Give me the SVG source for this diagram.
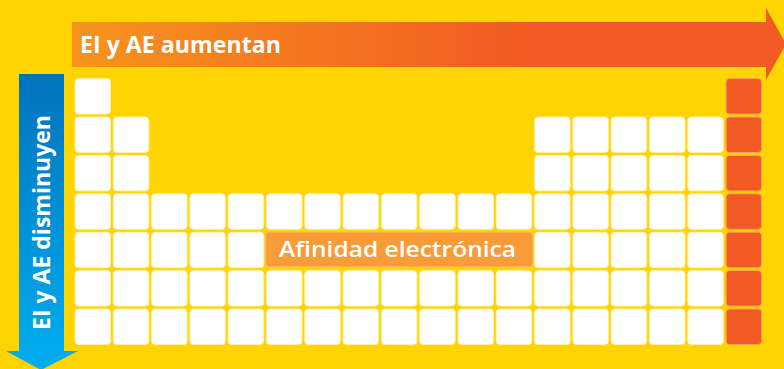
<svg xmlns="http://www.w3.org/2000/svg" xmlns:xlink="http://www.w3.org/1999/xlink" width="784" height="369" viewBox="0 0 784 369">
<defs>
<linearGradient id="gh" gradientUnits="userSpaceOnUse" x1="72" y1="0" x2="530" y2="0">
<stop offset="0" stop-color="#F7941D"/>
<stop offset="1" stop-color="#F15A22"/>
</linearGradient>
<linearGradient id="gv" gradientUnits="userSpaceOnUse" x1="0" y1="74" x2="0" y2="369">
<stop offset="0" stop-color="#0072BC"/>
<stop offset="1" stop-color="#00AEEF"/>
</linearGradient>
<rect id="c" width="35.5" height="35.5" rx="3.5"/>
</defs>
<style>
.w{fill:#FFFFFF;stroke:#FFF1A8;stroke-width:1}
.o{fill:#F15A22;stroke:#F8A05A;stroke-width:1}
.t{font-family:"Open Sans","Noto Sans","DejaVu Sans",sans-serif;fill:#FFFFFF}
</style>
<rect width="784" height="369" fill="#FFD400"/>
<g id="arrows">
<polygon id="arrow-h" points="72,22 766,22 766,8 786,44 766,80 766,67 72,67" fill="url(#gh)"/>
<polygon id="arrow-v" points="19,74 64,74 64,351 78,351 41,370 6,351 19,351" fill="url(#gv)"/>
</g>
<text class="t" x="80" y="53" font-size="23.5" font-weight="700" textLength="201" lengthAdjust="spacingAndGlyphs">EI y AE aumentan</text>
<text class="t" transform="translate(50,330) rotate(-90)" font-size="23.5" font-weight="700" textLength="215" lengthAdjust="spacingAndGlyphs">EI y AE disminuyen</text>
<g id="table">
<g id="row1"><use href="#c" class="w" x="75" y="78.6"/></g>
<g id="row2">
<use href="#c" class="w" x="75" y="117"/><use href="#c" class="w" x="113.3" y="117"/>
<use href="#c" class="w" x="534.6" y="117"/><use href="#c" class="w" x="572.9" y="117"/><use href="#c" class="w" x="611.2" y="117"/><use href="#c" class="w" x="649.5" y="117"/><use href="#c" class="w" x="687.8" y="117"/>
</g>
<g id="row3">
<use href="#c" class="w" x="75" y="155.4"/><use href="#c" class="w" x="113.3" y="155.4"/>
<use href="#c" class="w" x="534.6" y="155.4"/><use href="#c" class="w" x="572.9" y="155.4"/><use href="#c" class="w" x="611.2" y="155.4"/><use href="#c" class="w" x="649.5" y="155.4"/><use href="#c" class="w" x="687.8" y="155.4"/>
</g>
<g id="row4">
<use href="#c" class="w" x="75" y="193.8"/><use href="#c" class="w" x="113.3" y="193.8"/><use href="#c" class="w" x="151.6" y="193.8"/><use href="#c" class="w" x="189.9" y="193.8"/><use href="#c" class="w" x="228.2" y="193.8"/><use href="#c" class="w" x="266.5" y="193.8"/><use href="#c" class="w" x="304.8" y="193.8"/><use href="#c" class="w" x="343.1" y="193.8"/><use href="#c" class="w" x="381.4" y="193.8"/><use href="#c" class="w" x="419.7" y="193.8"/><use href="#c" class="w" x="458" y="193.8"/><use href="#c" class="w" x="496.3" y="193.8"/><use href="#c" class="w" x="534.6" y="193.8"/><use href="#c" class="w" x="572.9" y="193.8"/><use href="#c" class="w" x="611.2" y="193.8"/><use href="#c" class="w" x="649.5" y="193.8"/><use href="#c" class="w" x="687.8" y="193.8"/>
</g>
<g id="row5">
<use href="#c" class="w" x="75" y="232.2"/><use href="#c" class="w" x="113.3" y="232.2"/><use href="#c" class="w" x="151.6" y="232.2"/><use href="#c" class="w" x="189.9" y="232.2"/><use href="#c" class="w" x="228.2" y="232.2"/><use href="#c" class="w" x="534.6" y="232.2"/><use href="#c" class="w" x="572.9" y="232.2"/><use href="#c" class="w" x="611.2" y="232.2"/><use href="#c" class="w" x="649.5" y="232.2"/><use href="#c" class="w" x="687.8" y="232.2"/>
</g>
<g id="row6">
<use href="#c" class="w" x="75" y="270.6"/><use href="#c" class="w" x="113.3" y="270.6"/><use href="#c" class="w" x="151.6" y="270.6"/><use href="#c" class="w" x="189.9" y="270.6"/><use href="#c" class="w" x="228.2" y="270.6"/><use href="#c" class="w" x="266.5" y="270.6"/><use href="#c" class="w" x="304.8" y="270.6"/><use href="#c" class="w" x="343.1" y="270.6"/><use href="#c" class="w" x="381.4" y="270.6"/><use href="#c" class="w" x="419.7" y="270.6"/><use href="#c" class="w" x="458" y="270.6"/><use href="#c" class="w" x="496.3" y="270.6"/><use href="#c" class="w" x="534.6" y="270.6"/><use href="#c" class="w" x="572.9" y="270.6"/><use href="#c" class="w" x="611.2" y="270.6"/><use href="#c" class="w" x="649.5" y="270.6"/><use href="#c" class="w" x="687.8" y="270.6"/>
</g>
<g id="row7">
<use href="#c" class="w" x="75" y="309"/><use href="#c" class="w" x="113.3" y="309"/><use href="#c" class="w" x="151.6" y="309"/><use href="#c" class="w" x="189.9" y="309"/><use href="#c" class="w" x="228.2" y="309"/><use href="#c" class="w" x="266.5" y="309"/><use href="#c" class="w" x="304.8" y="309"/><use href="#c" class="w" x="343.1" y="309"/><use href="#c" class="w" x="381.4" y="309"/><use href="#c" class="w" x="419.7" y="309"/><use href="#c" class="w" x="458" y="309"/><use href="#c" class="w" x="496.3" y="309"/><use href="#c" class="w" x="534.6" y="309"/><use href="#c" class="w" x="572.9" y="309"/><use href="#c" class="w" x="611.2" y="309"/><use href="#c" class="w" x="649.5" y="309"/><use href="#c" class="w" x="687.8" y="309"/>
</g>
<g id="group18">
<use href="#c" class="o" x="726.1" y="78.6"/><use href="#c" class="o" x="726.1" y="117"/><use href="#c" class="o" x="726.1" y="155.4"/><use href="#c" class="o" x="726.1" y="193.8"/><use href="#c" class="o" x="726.1" y="232.2"/><use href="#c" class="o" x="726.1" y="270.6"/><use href="#c" class="o" x="726.1" y="309"/>
</g>
</g>
<g id="label">
<rect x="265.5" y="232" width="267.5" height="35" rx="4" fill="#F89C3A" stroke="#FBC06A" stroke-width="1"/>
<text class="t" x="279" y="257" font-size="22" font-weight="600" textLength="237" lengthAdjust="spacingAndGlyphs">Afinidad electrónica</text>
</g>
</svg>
